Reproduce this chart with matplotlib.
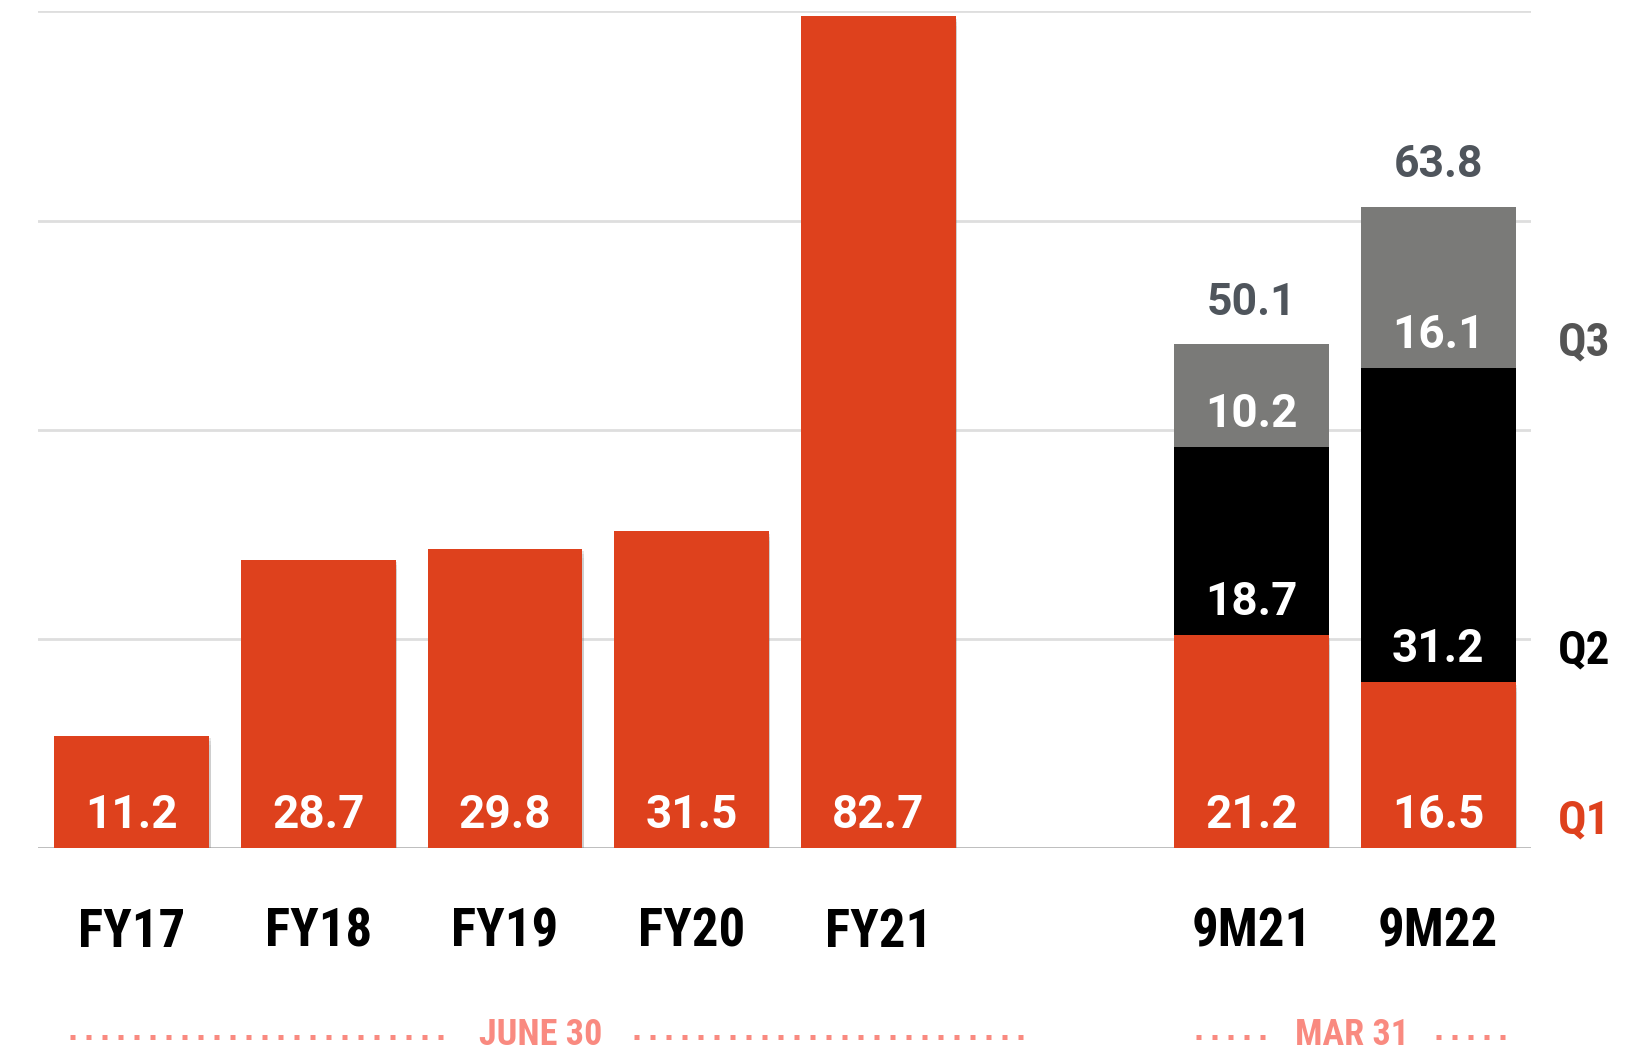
import matplotlib
matplotlib.use("Agg")
import matplotlib.pyplot as plt
from matplotlib import font_manager
from matplotlib.lines import Line2D
import matplotlib.patheffects as pe

# ---------------- data ----------------
categories = ["FY17", "FY18", "FY19", "FY20", "FY21", "9M21", "9M22"]
fy_values = [11.2, 28.7, 29.8, 31.5, 82.7]
nine_m_q1 = [21.2, 16.5]
nine_m_q2 = [18.7, 31.2]
nine_m_q3 = [10.2, 16.1]
nine_m_total = [50.1, 63.8]
quarter_labels = ["Q1", "Q2", "Q3"]
period_labels = ["JUNE 30", "MAR 31"]

# ---------------- style ----------------
ORANGE = "#DE411D"
GREY = "#7A7A78"
BLACK = "#000000"
DARK = "#4F555C"
SALMON = "#F98A80"
GRID = "#DEDEDE"
BASE = "#B8B8B8"

avail = {f.name for f in font_manager.fontManager.ttflist}
def pick(*names):
    for n in names:
        if n in avail:
            return [n, "DejaVu Sans"]
    return ["DejaVu Sans"]

F_NUM = pick("Roboto", "Liberation Sans")
F_COND = pick("Roboto Condensed", "Liberation Sans Narrow", "Liberation Sans")
F_NARROW = pick("Liberation Sans Narrow", "Roboto Condensed", "Liberation Sans")

fig = plt.figure(figsize=(16.28, 10.56), dpi=100)
ax = fig.add_axes([0.0236, 0.1967, 0.9171, 0.7925])
ax.set_xlim(-0.5, 7.5)
ax.set_ylim(0, 83.2)
ax.axis("off")

# gridlines
for g in [20.8, 41.6, 62.4, 83.2]:
    ax.axhline(g, color=GRID, lw=2.0, zorder=0)

x_fy = [0, 1, 2, 3, 4]
x_9m = [6, 7]
w = 0.83
shadow = [pe.SimplePatchShadow(offset=(1, -2), shadow_rgbFace="#777777", alpha=0.18),
          pe.SimplePatchShadow(offset=(1, -4), shadow_rgbFace="#777777", alpha=0.14),
          pe.SimplePatchShadow(offset=(1, -7), shadow_rgbFace="#777777", alpha=0.08),
          pe.Normal()]

bars = ax.bar(x_fy, fy_values, width=w, color=ORANGE, zorder=2)
b1 = ax.bar(x_9m, nine_m_q1, width=w, color=ORANGE, zorder=2)
b2 = ax.bar(x_9m, nine_m_q2, bottom=nine_m_q1, width=w, color=BLACK, zorder=2)
bot3 = [a + b for a, b in zip(nine_m_q1, nine_m_q2)]
b3 = ax.bar(x_9m, nine_m_q3, bottom=bot3, width=w, color=GREY, zorder=2)
for coll in (bars, b1):
    for p in coll:
        p.set_path_effects(shadow)

ax.axhline(0, color=BASE, lw=2.0, zorder=1.5)

num_kw = dict(ha="center", va="baseline", color="white", fontsize=33,
              fontweight="bold", family=F_NUM, zorder=5)
for x, v in zip(x_fy, fy_values):
    ax.text(x, 2.0, f"{v:.1f}", **num_kw)
for x, v in zip(x_9m, nine_m_q1):
    ax.text(x, 2.0, f"{v:.1f}", **num_kw)
for x, b, v in zip(x_9m, nine_m_q1, nine_m_q2):
    ax.text(x, b + 2.0, f"{v:.1f}", **num_kw)
for x, b, v in zip(x_9m, bot3, nine_m_q3):
    ax.text(x, b + 2.0, f"{v:.1f}", **num_kw)
for x, t in zip(x_9m, nine_m_total):
    ax.text(x, t + 2.9, f"{t:.1f}", ha="center", va="baseline", color=DARK,
            fontsize=32, fontweight="bold", family=F_NUM, zorder=5)

# category labels
xs = x_fy + x_9m
for x, c in zip(xs, categories):
    ax.text(x, -9.8, c, ha="center", va="baseline", color="black", fontsize=38,
            fontweight="bold", family=F_NARROW, clip_on=False)

# quarter labels at right
q_y = [1.5, 18.4, 49.0]
q_col = [ORANGE, BLACK, "#555555"]
for lab, y, c in zip(quarter_labels, q_y, q_col):
    ax.text(7.64, y, lab, ha="left", va="baseline", color=c, fontsize=34,
            fontweight="bold", family=F_NARROW, clip_on=False)

# period brackets (dotted lines + labels)
dot_y = -18.8
def dots(x0, x1):
    ln = Line2D([x0, x1], [dot_y, dot_y], color=SALMON, lw=3.6,
                linestyle=(0, (1, 2.2)), solid_capstyle="butt",
                dash_capstyle="butt", clip_on=False, transform=ax.transData)
    ax.add_line(ln)

dots(-0.33, 1.72)
dots(2.69, 4.78)
dots(5.70, 6.08)
dots(6.99, 7.37)
ax.text(2.19, -19.6, period_labels[0], ha="center", va="baseline", color=SALMON,
        fontsize=26, fontweight="bold", family=F_COND, clip_on=False)
ax.text(6.54, -19.6, period_labels[1], ha="center", va="baseline", color=SALMON,
        fontsize=26, fontweight="bold", family=F_COND, clip_on=False)

fig.savefig("out.png", dpi=100, facecolor="white")
